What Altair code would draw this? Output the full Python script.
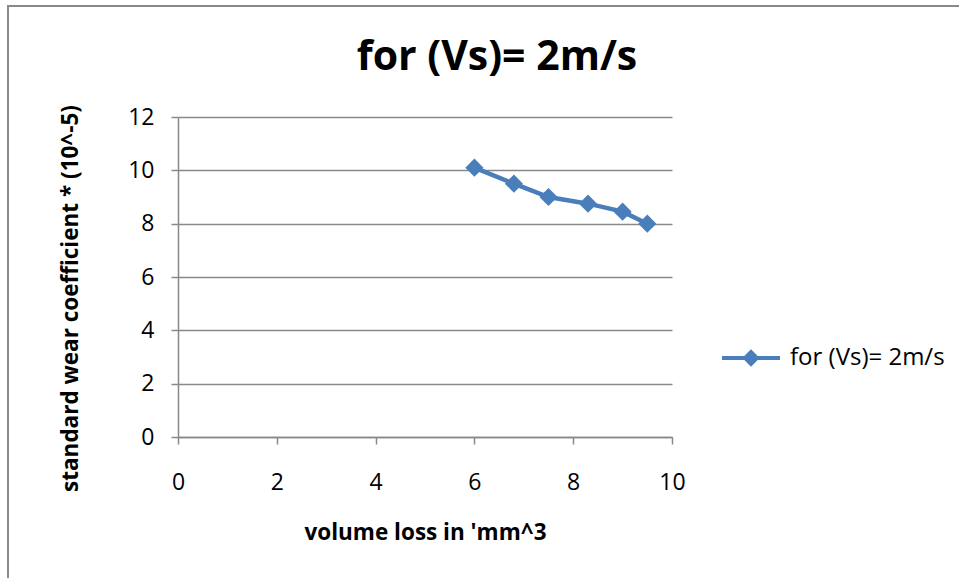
import altair as alt
import pandas as pd

volume_loss = [6.0, 6.8, 7.5, 8.3, 9.0, 9.5]
wear_coef = [10.1, 9.5, 9.0, 8.75, 8.45, 8.0]
series_name = "for (Vs)= 2m/s"
chart_title = "for (Vs)= 2m/s"
x_ticks = [0, 2, 4, 6, 8, 10]
y_ticks = [0, 2, 4, 6, 8, 10, 12]

df = pd.DataFrame({"x": volume_loss, "y": wear_coef, "s": [series_name] * len(volume_loss)})

FONT = "Open Sans"
BLUE = "#4a7ebb"
GRAY = "#898989"

legend_path = ("M -1 -0.07 L 1 -0.07 L 1 0.07 L -1 0.07 Z "
               "M 0 -0.3 L 0.3 0 L 0 0.3 L -0.3 0 Z")

color = alt.Color(
    "s:N",
    scale=alt.Scale(range=[BLUE]),
    legend=alt.Legend(
        title=None, orient="none", legendX=544, legendY=212,
        symbolType=legend_path, symbolSize=3364, symbolFillColor=BLUE,
        symbolStrokeWidth=0, labelFontSize=24, labelFont=FONT,
        labelColor="black", labelOffset=10,
    ),
)

base = alt.Chart(df)

line = base.mark_line(strokeWidth=4.5, point=alt.OverlayMarkDef(shape="diamond", size=330, filled=True, color=BLUE)).encode(
    x=alt.X("x:Q", scale=alt.Scale(domain=[0, 10]),
            axis=alt.Axis(values=x_ticks, title="volume loss in 'mm^3", grid=False,
                          labelFlush=False, labelPadding=27,
                          titleX=247, titleY=95, titleBaseline="middle")),
    y=alt.Y("y:Q", scale=alt.Scale(domain=[0, 12]),
            axis=alt.Axis(values=y_ticks, title="standard wear coefficient * (10^-5)", grid=True,
                          labelPadding=17, titleX=-108, titleY=181, titleAngle=-90,
                          titleBaseline="middle", titleAlign="center")),
    color=color,
)

frame = alt.Chart(pd.DataFrame({"a": [0]})).mark_rect(
    fill=None, stroke=GRAY, strokeWidth=2, clip=False
).encode(
    x=alt.value(-170), x2=alt.value(800), y=alt.value(-111), y2=alt.value(480)
)

title = alt.Chart(pd.DataFrame({"t": [chart_title]})).mark_text(
    font=FONT, fontSize=41, fontWeight="bold", color="black",
    align="center", baseline="middle", clip=False
).encode(text="t:N", x=alt.value(319), y=alt.value(-59))

chart = alt.layer(frame, line, title).properties(
    width=494, height=320,
    background="white",
    autosize=alt.AutoSizeParams(type="none"),
    padding={"left": 178, "top": 117, "right": 287, "bottom": 141},
).configure_view(stroke=None).configure_axis(
    domainColor=GRAY, domainWidth=1.5, tickColor=GRAY, tickWidth=1.5, tickSize=7,
    gridColor=GRAY, gridWidth=1.5, labelFont=FONT, labelFontSize=23, labelColor="black",
    titleFont=FONT, titleFontSize=22.5, titleFontWeight="bold", titleColor="black",
)

chart.save("out.html", embed_options={"renderer": "svg", "actions": False})
